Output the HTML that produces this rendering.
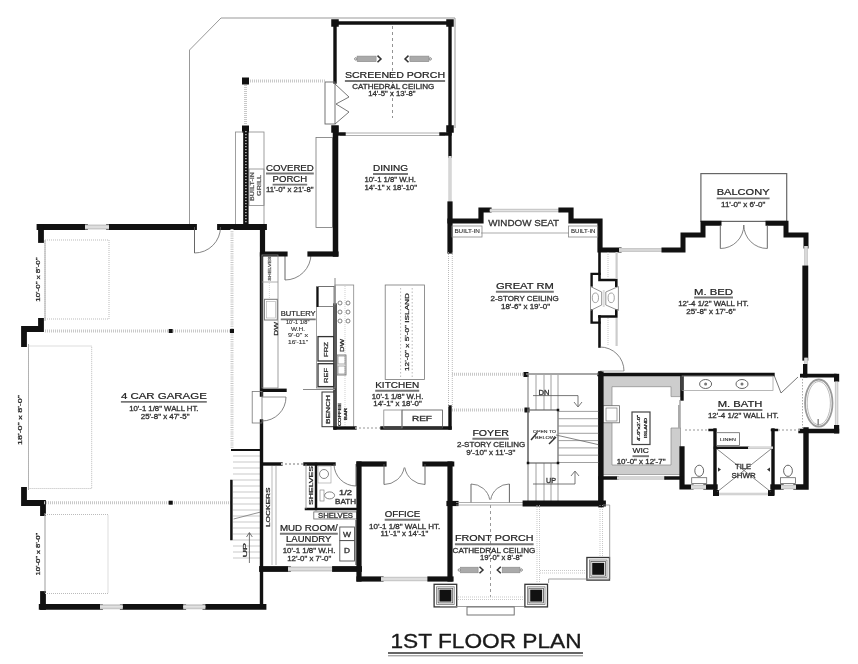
<!DOCTYPE html>
<html><head><meta charset="utf-8"><style>
html,body{margin:0;padding:0;background:#fff;}
svg{display:block;font-family:"Liberation Sans", sans-serif;}
</style></head><body>
<svg width="858" height="664" viewBox="0 0 858 664">
<defs><filter id="bl" filterUnits="userSpaceOnUse" x="0" y="0" width="858" height="664" color-interpolation-filters="sRGB"><feColorMatrix type="saturate" values="0"/><feGaussianBlur stdDeviation="0.5"/></filter></defs>
<rect width="858" height="664" fill="#fff"/>
<g filter="url(#bl)">
<rect width="858" height="664" fill="#fff"/>
<polyline points="189.5,224 189.5,50 221,18 455,18 455,128" fill="none" stroke="#999" stroke-width="1" stroke-linecap="butt" stroke-linejoin="miter"/>
<polyline points="335,23 450,23" fill="none" stroke="#111" stroke-width="3.4" stroke-linecap="square" stroke-linejoin="miter"/>
<polyline points="335,23 335,82" fill="none" stroke="#111" stroke-width="3.4" stroke-linecap="square" stroke-linejoin="miter"/>
<polyline points="450,23 450,156" fill="none" stroke="#111" stroke-width="3.4" stroke-linecap="square" stroke-linejoin="miter"/>
<rect x="331.25" y="19.25" width="7.5" height="7.5" fill="#111"/>
<rect x="446.25" y="19.25" width="7.5" height="7.5" fill="#111"/>
<rect x="331.25" y="125.25" width="7.5" height="7.5" fill="#111"/>
<rect x="446.25" y="125.25" width="7.5" height="7.5" fill="#111"/>
<line x1="340" y1="133" x2="445" y2="133" stroke="#999" stroke-width="0.8" stroke-linecap="butt"/>
<line x1="340" y1="135.5" x2="445" y2="135.5" stroke="#999" stroke-width="0.8" stroke-linecap="butt"/>
<polyline points="335,134 344,134" fill="none" stroke="#111" stroke-width="3.4" stroke-linecap="square" stroke-linejoin="miter"/>
<polyline points="441,134 450,134" fill="none" stroke="#111" stroke-width="3.4" stroke-linecap="square" stroke-linejoin="miter"/>
<line x1="392.5" y1="26" x2="392.5" y2="118" stroke="#777" stroke-width="0.8" stroke-linecap="butt" stroke-dasharray="3,3"/>
<circle cx="355.8" cy="58.9" r="1.2" fill="none" stroke="#777" stroke-width="0.9"/>
<rect x="357.1" y="56.1" width="19.00" height="5.6" fill="#aaa" stroke="#888" stroke-width="0.6"/>
<path d="M377.5,55.6 L381,58.9 L377.5,62.199999999999996" fill="none" stroke="#333" stroke-width="1.5"/>
<circle cx="430.2" cy="58.9" r="1.2" fill="none" stroke="#777" stroke-width="0.9"/>
<rect x="409.90" y="56.1" width="19.00" height="5.6" fill="#aaa" stroke="#888" stroke-width="0.6"/>
<path d="M408.5,55.6 L405,58.9 L408.5,62.199999999999996" fill="none" stroke="#333" stroke-width="1.5"/>
<text x="344.9" y="78.0" font-size="8.38" fill="#222" stroke="#222" stroke-width="0.2" textLength="100.20" lengthAdjust="spacingAndGlyphs">SCREENED PORCH</text>
<line x1="344.9" y1="81.0" x2="445.1" y2="81.0" stroke="#777" stroke-width="1.9" stroke-linecap="butt"/>
<text x="352.2" y="89.2" font-size="6.98" fill="#333" stroke="#333" stroke-width="0.3" textLength="82.00" lengthAdjust="spacingAndGlyphs">CATHEDRAL CEILING</text>
<text x="368.2" y="95.9" font-size="6.98" fill="#333" stroke="#333" stroke-width="0.3" textLength="47.40" lengthAdjust="spacingAndGlyphs">14'-5&quot; x 13'-8&quot;</text>
<rect x="325" y="82" width="10" height="42" fill="none" stroke="#666" stroke-width="0.9"/>
<polyline points="335,84 349,97 336,104 349,112 335,124" fill="none" stroke="#555" stroke-width="0.8" stroke-linecap="butt" stroke-linejoin="miter"/>
<rect x="242.0" y="77.5" width="7" height="7" fill="#111"/>
<rect x="242.0" y="125.5" width="7" height="7" fill="#111"/>
<line x1="250" y1="81" x2="325" y2="81" stroke="#c8c8c8" stroke-width="3" stroke-linecap="butt" stroke-dasharray="1,1"/>
<line x1="245.5" y1="85" x2="245.5" y2="125" stroke="#c8c8c8" stroke-width="3" stroke-linecap="butt" stroke-dasharray="1,1"/>
<rect x="235.4" y="132" width="28.599999999999994" height="94" fill="none" stroke="#888" stroke-width="0.8"/>
<rect x="249" y="169" width="15" height="36.5" fill="none" stroke="#888" stroke-width="0.8"/>
<polyline points="245.9,129 245.9,227" fill="none" stroke="#111" stroke-width="5.4" stroke-linecap="square" stroke-linejoin="miter"/>
<line x1="245.9" y1="131" x2="245.9" y2="226" stroke="#ddd" stroke-width="1.3" stroke-linecap="butt" stroke-dasharray="1.2,1.8"/>
<text transform="translate(254.23,201) rotate(-90)" x="0" y="0" font-size="4.8" fill="#555" stroke="#555" stroke-width="0.25" textLength="29.00" lengthAdjust="spacingAndGlyphs">BUILT-IN</text>
<text transform="translate(261.23,196) rotate(-90)" x="0" y="0" font-size="4.8" fill="#555" stroke="#555" stroke-width="0.25" textLength="21.00" lengthAdjust="spacingAndGlyphs">GRILL</text>
<text x="266" y="170.5" font-size="8.38" fill="#222" stroke="#222" stroke-width="0.2" textLength="47.80" lengthAdjust="spacingAndGlyphs">COVERED</text>
<line x1="266" y1="173.5" x2="313.8" y2="173.5" stroke="#777" stroke-width="1.9" stroke-linecap="butt"/>
<text x="272.6" y="181.6" font-size="8.38" fill="#222" stroke="#222" stroke-width="0.2" textLength="34.60" lengthAdjust="spacingAndGlyphs">PORCH</text>
<line x1="272.6" y1="184.6" x2="307.2" y2="184.6" stroke="#777" stroke-width="1.9" stroke-linecap="butt"/>
<text x="266" y="192.4" font-size="6.98" fill="#333" stroke="#333" stroke-width="0.3" textLength="47.50" lengthAdjust="spacingAndGlyphs">11'-0&quot; x 21'-8&quot;</text>
<rect x="316" y="137.5" width="16.5" height="90.0" fill="none" stroke="#777" stroke-width="0.8"/>
<polyline points="335.5,129 335.5,254" fill="none" stroke="#111" stroke-width="5.5" stroke-linecap="square" stroke-linejoin="miter"/>
<line x1="450" y1="156" x2="450" y2="204" stroke="#c9c9c9" stroke-width="3.2" stroke-linecap="butt"/>
<line x1="450" y1="156" x2="450" y2="204" stroke="#e4e4e4" stroke-width="0.96" stroke-linecap="butt"/>
<text x="373" y="171.0" font-size="8.38" fill="#222" stroke="#222" stroke-width="0.2" textLength="35.00" lengthAdjust="spacingAndGlyphs">DINING</text>
<line x1="373" y1="174.0" x2="408" y2="174.0" stroke="#777" stroke-width="1.9" stroke-linecap="butt"/>
<text x="364.5" y="182.1" font-size="6.98" fill="#333" stroke="#333" stroke-width="0.3" textLength="51.40" lengthAdjust="spacingAndGlyphs">10'-1 1/8&quot; W.H.</text>
<text x="364.5" y="189.9" font-size="6.98" fill="#333" stroke="#333" stroke-width="0.3" textLength="52.50" lengthAdjust="spacingAndGlyphs">14'-1&quot; x 18'-10&quot;</text>
<polyline points="39.5,227 85,227" fill="none" stroke="#111" stroke-width="5.8" stroke-linecap="square" stroke-linejoin="miter"/>
<polyline points="109,227 194,227" fill="none" stroke="#111" stroke-width="5.8" stroke-linecap="square" stroke-linejoin="miter"/>
<polyline points="220,227 264,227" fill="none" stroke="#111" stroke-width="5.8" stroke-linecap="square" stroke-linejoin="miter"/>
<line x1="85" y1="227" x2="109" y2="227" stroke="#c9c9c9" stroke-width="5" stroke-linecap="butt"/>
<line x1="85" y1="227" x2="109" y2="227" stroke="#e4e4e4" stroke-width="1.5" stroke-linecap="butt"/>
<polyline points="41,227 41,240" fill="none" stroke="#111" stroke-width="5.8" stroke-linecap="square" stroke-linejoin="miter"/>
<line x1="45" y1="240" x2="45" y2="321" stroke="#aaa" stroke-width="1" stroke-linecap="butt"/>
<polyline points="41,321 41,329 24,329 24,344" fill="none" stroke="#111" stroke-width="5.8" stroke-linecap="square" stroke-linejoin="miter"/>
<line x1="28.5" y1="344" x2="28.5" y2="490" stroke="#aaa" stroke-width="1" stroke-linecap="butt"/>
<polyline points="24,490 24,503 43,503 43,513" fill="none" stroke="#111" stroke-width="5.8" stroke-linecap="square" stroke-linejoin="miter"/>
<line x1="45" y1="513" x2="45" y2="594" stroke="#aaa" stroke-width="1" stroke-linecap="butt"/>
<polyline points="43,594 43,607" fill="none" stroke="#111" stroke-width="5.8" stroke-linecap="square" stroke-linejoin="miter"/>
<polyline points="41.7,606.8 100,606.8" fill="none" stroke="#111" stroke-width="5.8" stroke-linecap="square" stroke-linejoin="miter"/>
<polyline points="122.8,606.8 183.2,606.8" fill="none" stroke="#111" stroke-width="5.8" stroke-linecap="square" stroke-linejoin="miter"/>
<polyline points="205.4,606.8 263.5,606.8" fill="none" stroke="#111" stroke-width="5.8" stroke-linecap="square" stroke-linejoin="miter"/>
<line x1="100" y1="606.8" x2="122.8" y2="606.8" stroke="#c9c9c9" stroke-width="5" stroke-linecap="butt"/>
<line x1="100" y1="606.8" x2="122.8" y2="606.8" stroke="#e4e4e4" stroke-width="1.5" stroke-linecap="butt"/>
<line x1="183.2" y1="606.8" x2="205.4" y2="606.8" stroke="#c9c9c9" stroke-width="5" stroke-linecap="butt"/>
<line x1="183.2" y1="606.8" x2="205.4" y2="606.8" stroke="#e4e4e4" stroke-width="1.5" stroke-linecap="butt"/>
<rect x="45" y="240" width="64" height="79" fill="none" stroke="#bbb" stroke-width="1" stroke-dasharray="1,1"/>
<rect x="28.5" y="346" width="63.2" height="142.5" fill="none" stroke="#bbb" stroke-width="1" stroke-dasharray="1,1"/>
<rect x="45" y="514.5" width="63" height="79.0" fill="none" stroke="#bbb" stroke-width="1" stroke-dasharray="1,1"/>
<line x1="45" y1="331" x2="232" y2="331" stroke="#c8c8c8" stroke-width="3" stroke-linecap="butt" stroke-dasharray="1,1"/>
<line x1="44" y1="502.7" x2="232" y2="502.7" stroke="#c8c8c8" stroke-width="3" stroke-linecap="butt" stroke-dasharray="1,1"/>
<line x1="232" y1="229" x2="232" y2="449" stroke="#c8c8c8" stroke-width="3" stroke-linecap="butt" stroke-dasharray="1,1.2"/>
<rect x="168.7" y="329.0" width="4" height="4" fill="#111"/>
<rect x="230.0" y="329.0" width="4" height="4" fill="#111"/>
<rect x="168.7" y="500.7" width="4" height="4" fill="#111"/>
<polyline points="232,450 262,450" fill="none" stroke="#111" stroke-width="2" stroke-linecap="square" stroke-linejoin="miter"/>
<line x1="233" y1="456" x2="261" y2="456" stroke="#bbb" stroke-width="0.8" stroke-linecap="butt"/>
<line x1="233" y1="462" x2="261" y2="462" stroke="#bbb" stroke-width="0.8" stroke-linecap="butt"/>
<line x1="233" y1="468" x2="261" y2="468" stroke="#bbb" stroke-width="0.8" stroke-linecap="butt"/>
<line x1="233" y1="474" x2="261" y2="474" stroke="#bbb" stroke-width="0.8" stroke-linecap="butt"/>
<line x1="233" y1="480" x2="261" y2="480" stroke="#bbb" stroke-width="0.8" stroke-linecap="butt"/>
<line x1="233" y1="486" x2="261" y2="486" stroke="#bbb" stroke-width="0.8" stroke-linecap="butt"/>
<line x1="233" y1="492" x2="261" y2="492" stroke="#bbb" stroke-width="0.8" stroke-linecap="butt"/>
<line x1="233" y1="498" x2="261" y2="498" stroke="#bbb" stroke-width="0.8" stroke-linecap="butt"/>
<line x1="233" y1="504" x2="261" y2="504" stroke="#bbb" stroke-width="0.8" stroke-linecap="butt"/>
<line x1="233" y1="510" x2="261" y2="510" stroke="#bbb" stroke-width="0.8" stroke-linecap="butt"/>
<line x1="233" y1="516" x2="261" y2="516" stroke="#bbb" stroke-width="0.8" stroke-linecap="butt"/>
<line x1="233" y1="522" x2="261" y2="522" stroke="#bbb" stroke-width="0.8" stroke-linecap="butt"/>
<line x1="233" y1="528" x2="261" y2="528" stroke="#bbb" stroke-width="0.8" stroke-linecap="butt"/>
<line x1="233" y1="534" x2="261" y2="534" stroke="#bbb" stroke-width="0.8" stroke-linecap="butt"/>
<line x1="233" y1="540" x2="261" y2="540" stroke="#bbb" stroke-width="0.8" stroke-linecap="butt"/>
<line x1="233" y1="546" x2="261" y2="546" stroke="#bbb" stroke-width="0.8" stroke-linecap="butt"/>
<line x1="233" y1="552" x2="261" y2="552" stroke="#bbb" stroke-width="0.8" stroke-linecap="butt"/>
<line x1="233" y1="558" x2="261" y2="558" stroke="#bbb" stroke-width="0.8" stroke-linecap="butt"/>
<polyline points="231.4,481 231.4,539" fill="none" stroke="#111" stroke-width="2.5" stroke-linecap="square" stroke-linejoin="miter"/>
<text transform="translate(246.88,557.5) rotate(-90)" x="0" y="0" font-size="5.5" fill="#2a2a2a" stroke="#2a2a2a" stroke-width="0.25" textLength="14.50" lengthAdjust="spacingAndGlyphs">UP</text>
<polyline points="249.4,563 249.4,533" fill="none" stroke="#555" stroke-width="0.8" stroke-linecap="butt" stroke-linejoin="miter"/>
<polyline points="246.5,537 249.4,532.5 252.3,537" fill="none" stroke="#555" stroke-width="0.8" stroke-linecap="butt" stroke-linejoin="miter"/>
<line x1="233.6" y1="519" x2="260.7" y2="512" stroke="#777" stroke-width="0.8" stroke-linecap="butt"/>
<text x="120.9" y="398.9" font-size="8.38" fill="#222" stroke="#222" stroke-width="0.2" textLength="85.90" lengthAdjust="spacingAndGlyphs">4 CAR GARAGE</text>
<line x1="120.9" y1="401.9" x2="206.8" y2="401.9" stroke="#777" stroke-width="1.9" stroke-linecap="butt"/>
<text x="129.2" y="410.5" font-size="6.98" fill="#333" stroke="#333" stroke-width="0.3" textLength="69.30" lengthAdjust="spacingAndGlyphs">10'-1 1/8&quot; WALL HT.</text>
<text x="140.8" y="418.7" font-size="6.98" fill="#333" stroke="#333" stroke-width="0.3" textLength="48.70" lengthAdjust="spacingAndGlyphs">25'-8&quot; x 47'-5&quot;</text>
<text transform="translate(39.87,301.7) rotate(-90)" x="0" y="0" font-size="5.2" fill="#2a2a2a" stroke="#2a2a2a" stroke-width="0.25" textLength="44.30" lengthAdjust="spacingAndGlyphs">10'-0&quot; x 8'-0&quot;</text>
<text transform="translate(22.37,445) rotate(-90)" x="0" y="0" font-size="5.2" fill="#2a2a2a" stroke="#2a2a2a" stroke-width="0.25" textLength="50.00" lengthAdjust="spacingAndGlyphs">18'-0&quot; x 8'-0&quot;</text>
<text transform="translate(39.87,575.5) rotate(-90)" x="0" y="0" font-size="5.2" fill="#2a2a2a" stroke="#2a2a2a" stroke-width="0.25" textLength="42.70" lengthAdjust="spacingAndGlyphs">10'-0&quot; x 8'-0&quot;</text>
<line x1="194.5" y1="227" x2="194.5" y2="253.0" stroke="#555" stroke-width="0.9" stroke-linecap="butt"/>
<path d="M194.50,253.00 A26,26 0 0 0 220.50,227.00" fill="none" stroke="#666" stroke-width="0.8"/>
<line x1="285" y1="254" x2="285.0" y2="280.0" stroke="#555" stroke-width="0.9" stroke-linecap="butt"/>
<path d="M285.00,280.00 A26,26 0 0 0 311.00,254.00" fill="none" stroke="#666" stroke-width="0.8"/>
<polyline points="262.5,227 262.5,254 285,254" fill="none" stroke="#111" stroke-width="5.2" stroke-linecap="square" stroke-linejoin="miter"/>
<polyline points="310,254 336,254" fill="none" stroke="#111" stroke-width="5.2" stroke-linecap="square" stroke-linejoin="miter"/>
<polyline points="261.5,254 261.5,395" fill="none" stroke="#111" stroke-width="3.4" stroke-linecap="square" stroke-linejoin="miter"/>
<polyline points="261.5,421 261.5,607" fill="none" stroke="#111" stroke-width="3.4" stroke-linecap="square" stroke-linejoin="miter"/>
<polyline points="262,390.3 285,390.3" fill="none" stroke="#111" stroke-width="3.4" stroke-linecap="square" stroke-linejoin="miter"/>
<rect x="252.2" y="391.5" width="9.800000000000011" height="31.5" fill="none" stroke="#777" stroke-width="0.8"/>
<line x1="262" y1="397" x2="286" y2="397" stroke="#777" stroke-width="0.8" stroke-linecap="butt"/>
<path d="M286.00,397.00 A24,24 0 0 1 262.00,421.00" fill="none" stroke="#666" stroke-width="0.8"/>
<rect x="262" y="255" width="16" height="133" fill="none" stroke="#888" stroke-width="0.8"/>
<line x1="262" y1="282" x2="278" y2="282" stroke="#999" stroke-width="0.8" stroke-linecap="butt"/>
<line x1="269.4" y1="283" x2="269.4" y2="298" stroke="#ccc" stroke-width="0.8" stroke-linecap="butt" stroke-dasharray="1,1"/>
<text transform="translate(271.31,280.7) rotate(-90)" x="0" y="0" font-size="4.2" fill="#555" stroke="#555" stroke-width="0.25" textLength="24.30" lengthAdjust="spacingAndGlyphs">SHELVES</text>
<rect x="264.4" y="299.3" width="12.900000000000034" height="20.69999999999999" fill="none" stroke="#777" stroke-width="1"/>
<rect x="266.5" y="301.5" width="9.0" height="16.5" fill="none" stroke="#aaa" stroke-width="0.6"/>
<text transform="translate(277.66,335.7) rotate(-90)" x="0" y="0" font-size="6" fill="#2a2a2a" stroke="#2a2a2a" stroke-width="0.25" textLength="13.70" lengthAdjust="spacingAndGlyphs">DW</text>
<text x="280.75" y="316.4" font-size="7.54" fill="#222" stroke="#222" stroke-width="0.2" textLength="34.95" lengthAdjust="spacingAndGlyphs">BUTLERY</text>
<line x1="280.75" y1="319.4" x2="315.7" y2="319.4" stroke="#777" stroke-width="1.9" stroke-linecap="butt"/>
<text x="286" y="323.9" font-size="5.31" fill="#333" stroke="#333" stroke-width="0.12" textLength="23.40" lengthAdjust="spacingAndGlyphs">10'-1 1/8&quot;</text>
<text x="291" y="330.7" font-size="5.31" fill="#333" stroke="#333" stroke-width="0.12" textLength="14.00" lengthAdjust="spacingAndGlyphs">W.H.</text>
<text x="288" y="337.29999999999995" font-size="5.31" fill="#333" stroke="#333" stroke-width="0.12" textLength="20.00" lengthAdjust="spacingAndGlyphs">9'-0&quot; x</text>
<text x="288" y="344.2" font-size="5.31" fill="#333" stroke="#333" stroke-width="0.12" textLength="20.00" lengthAdjust="spacingAndGlyphs">16'-11&quot;</text>
<polyline points="335,305 335,428" fill="none" stroke="#111" stroke-width="3.4" stroke-linecap="square" stroke-linejoin="miter"/>
<rect x="316.5" y="286.5" width="18.5" height="101.5" fill="none" stroke="#888" stroke-width="0.8"/>
<rect x="318" y="286.5" width="16" height="20.0" fill="none" stroke="#666" stroke-width="0.8"/>
<polyline points="317.5,288 317.5,306" fill="none" stroke="#111" stroke-width="2" stroke-linecap="square" stroke-linejoin="miter"/>
<rect x="318" y="336.6" width="16" height="24.399999999999977" fill="none" stroke="#333" stroke-width="1.3"/>
<rect x="318" y="363.7" width="16" height="22.900000000000034" fill="none" stroke="#333" stroke-width="1.3"/>
<text transform="translate(328.09,357) rotate(-90)" x="0" y="0" font-size="5.8" fill="#2a2a2a" stroke="#2a2a2a" stroke-width="0.25" textLength="15.00" lengthAdjust="spacingAndGlyphs">FRZ</text>
<text transform="translate(328.09,383) rotate(-90)" x="0" y="0" font-size="5.8" fill="#2a2a2a" stroke="#2a2a2a" stroke-width="0.25" textLength="15.00" lengthAdjust="spacingAndGlyphs">REF</text>
<rect x="322" y="392" width="13" height="34.69999999999999" fill="none" stroke="#333" stroke-width="1"/>
<text transform="translate(330.30,424) rotate(-90)" x="0" y="0" font-size="5" fill="#2a2a2a" stroke="#2a2a2a" stroke-width="0.25" textLength="29.00" lengthAdjust="spacingAndGlyphs">BENCH</text>
<rect x="335" y="285" width="18.69999999999999" height="143" fill="none" stroke="#888" stroke-width="0.8"/>
<line x1="345" y1="286" x2="345" y2="427" stroke="#bbb" stroke-width="0.7" stroke-linecap="butt" stroke-dasharray="1,1"/>
<circle cx="340" cy="303" r="2" fill="none" stroke="#666" stroke-width="0.8"/>
<circle cx="348" cy="303" r="2" fill="none" stroke="#666" stroke-width="0.8"/>
<circle cx="340" cy="312" r="2" fill="none" stroke="#666" stroke-width="0.8"/>
<circle cx="348" cy="312" r="2" fill="none" stroke="#666" stroke-width="0.8"/>
<circle cx="340" cy="321" r="2" fill="none" stroke="#666" stroke-width="0.8"/>
<circle cx="348" cy="321" r="2" fill="none" stroke="#666" stroke-width="0.8"/>
<text transform="translate(343.98,352) rotate(-90)" x="0" y="0" font-size="5.5" fill="#2a2a2a" stroke="#2a2a2a" stroke-width="0.25" textLength="13.00" lengthAdjust="spacingAndGlyphs">DW</text>
<rect x="337" y="355" width="9" height="20" fill="none" stroke="#666" stroke-width="0.8"/>
<rect x="338" y="356" width="7" height="8" fill="none" stroke="#888" stroke-width="0.7"/>
<rect x="338" y="366" width="7" height="8" fill="none" stroke="#888" stroke-width="0.7"/>
<text transform="translate(341.19,426) rotate(-90)" x="0" y="0" font-size="3.3" fill="#2a2a2a" stroke="#2a2a2a" stroke-width="0.25" textLength="23.00" lengthAdjust="spacingAndGlyphs">COFFEE</text>
<text transform="translate(347.19,420) rotate(-90)" x="0" y="0" font-size="3.3" fill="#2a2a2a" stroke="#2a2a2a" stroke-width="0.25" textLength="12.00" lengthAdjust="spacingAndGlyphs">BAR</text>
<line x1="335" y1="278" x2="335" y2="305" stroke="#888" stroke-width="1" stroke-linecap="butt"/>
<polyline points="335,428 355,428" fill="none" stroke="#111" stroke-width="3.4" stroke-linecap="square" stroke-linejoin="miter"/>
<line x1="355" y1="428" x2="382" y2="428" stroke="#bbb" stroke-width="1.5" stroke-linecap="butt" stroke-dasharray="2,2"/>
<polyline points="382,428 450,428" fill="none" stroke="#111" stroke-width="3.4" stroke-linecap="square" stroke-linejoin="miter"/>
<polyline points="450,407 450,428" fill="none" stroke="#111" stroke-width="3.4" stroke-linecap="square" stroke-linejoin="miter"/>
<rect x="385.2" y="285" width="39.19999999999999" height="94.5" fill="none" stroke="#777" stroke-width="0.8"/>
<line x1="400.6" y1="288" x2="400.6" y2="377" stroke="#aaa" stroke-width="0.8" stroke-linecap="butt" stroke-dasharray="1.5,2"/>
<line x1="412.2" y1="288" x2="412.2" y2="377" stroke="#aaa" stroke-width="0.8" stroke-linecap="butt" stroke-dasharray="1.5,2"/>
<text transform="translate(409.16,371) rotate(-90)" x="0" y="0" font-size="6" fill="#2a2a2a" stroke="#2a2a2a" stroke-width="0.25" textLength="78.00" lengthAdjust="spacingAndGlyphs">12'-0&quot; x 5'-0&quot; ISLAND</text>
<rect x="402" y="410" width="40.39999999999998" height="18" fill="none" stroke="#555" stroke-width="0.8"/>
<text x="412" y="421.25" font-size="6.28" fill="#333" stroke="#333" stroke-width="0.3" textLength="20.00" lengthAdjust="spacingAndGlyphs">REF</text>
<rect x="383.8" y="410" width="18.19999999999999" height="18" fill="none" stroke="#888" stroke-width="0.8"/>
<text x="375.2" y="387.7" font-size="8.38" fill="#222" stroke="#222" stroke-width="0.2" textLength="44.00" lengthAdjust="spacingAndGlyphs">KITCHEN</text>
<line x1="375.2" y1="390.7" x2="419.2" y2="390.7" stroke="#777" stroke-width="1.9" stroke-linecap="butt"/>
<text x="371.8" y="398.5" font-size="6.98" fill="#333" stroke="#333" stroke-width="0.3" textLength="51.50" lengthAdjust="spacingAndGlyphs">10'-1 1/8&quot; W.H.</text>
<text x="373.3" y="405.7" font-size="6.98" fill="#333" stroke="#333" stroke-width="0.3" textLength="48.50" lengthAdjust="spacingAndGlyphs">14'-1&quot; x 18'-0&quot;</text>
<line x1="303" y1="389.5" x2="335" y2="389.5" stroke="#888" stroke-width="1" stroke-linecap="butt"/>
<polyline points="450,204 450,251" fill="none" stroke="#111" stroke-width="5.2" stroke-linecap="square" stroke-linejoin="miter"/>
<line x1="448.5" y1="252" x2="448.5" y2="407" stroke="#aaa" stroke-width="0.8" stroke-linecap="butt" stroke-dasharray="1,1"/>
<line x1="452.3" y1="252" x2="452.3" y2="407" stroke="#aaa" stroke-width="0.8" stroke-linecap="butt" stroke-dasharray="1,1"/>
<rect x="700.9" y="173.6" width="85.80000000000007" height="47.80000000000001" fill="none" stroke="#666" stroke-width="1.2"/>
<polyline points="450,221 481,221 481,210 489,210" fill="none" stroke="#111" stroke-width="5.2" stroke-linecap="square" stroke-linejoin="miter"/>
<line x1="489.8" y1="210.5" x2="560.7" y2="210.5" stroke="#c9c9c9" stroke-width="3.3" stroke-linecap="butt"/>
<line x1="489.8" y1="210.5" x2="560.7" y2="210.5" stroke="#e4e4e4" stroke-width="0.9899999999999999" stroke-linecap="butt"/>
<polyline points="561,210 571,210 571,221 600,221 600,250 619,250" fill="none" stroke="#111" stroke-width="5.2" stroke-linecap="square" stroke-linejoin="miter"/>
<rect x="452" y="226" width="30" height="11" fill="none" stroke="#888" stroke-width="0.8"/>
<text x="454.4" y="232.8" font-size="5.59" fill="#333" stroke="#333" stroke-width="0.12" textLength="25.50" lengthAdjust="spacingAndGlyphs">BUILT-IN</text>
<rect x="568.4" y="226" width="29.300000000000068" height="11" fill="none" stroke="#888" stroke-width="0.8"/>
<text x="571" y="232.8" font-size="5.59" fill="#333" stroke="#333" stroke-width="0.12" textLength="24.50" lengthAdjust="spacingAndGlyphs">BUILT-IN</text>
<line x1="481" y1="233" x2="569" y2="233" stroke="#888" stroke-width="0.7" stroke-linecap="butt"/>
<text x="488.3" y="226" font-size="9.8" fill="#333" stroke="#333" stroke-width="0.3" textLength="70.8" lengthAdjust="spacingAndGlyphs">WINDOW SEAT</text>
<text x="495.9" y="288.8" font-size="8.38" fill="#222" stroke="#222" stroke-width="0.2" textLength="57.90" lengthAdjust="spacingAndGlyphs">GREAT RM</text>
<line x1="495.9" y1="291.8" x2="553.8" y2="291.8" stroke="#777" stroke-width="1.9" stroke-linecap="butt"/>
<text x="490.5" y="301.2" font-size="6.98" fill="#333" stroke="#333" stroke-width="0.3" textLength="68.30" lengthAdjust="spacingAndGlyphs">2-STORY CEILING</text>
<text x="501" y="309.4" font-size="6.98" fill="#333" stroke="#333" stroke-width="0.3" textLength="49.00" lengthAdjust="spacingAndGlyphs">18'-6&quot; x 19'-0&quot;</text>
<line x1="619" y1="250" x2="664" y2="250" stroke="#c9c9c9" stroke-width="3.8" stroke-linecap="butt"/>
<line x1="619" y1="250" x2="664" y2="250" stroke="#e4e4e4" stroke-width="1.14" stroke-linecap="butt"/>
<polyline points="664,250 683,250 683,235 703,235 703,223.2 719,223.2" fill="none" stroke="#111" stroke-width="5.0" stroke-linecap="square" stroke-linejoin="miter"/>
<polyline points="768,223.2 786,223.2 786,235 806,235 806,246" fill="none" stroke="#111" stroke-width="5.0" stroke-linecap="square" stroke-linejoin="miter"/>
<line x1="806" y1="246" x2="806" y2="268.5" stroke="#c9c9c9" stroke-width="3.8" stroke-linecap="butt"/>
<line x1="806" y1="246" x2="806" y2="268.5" stroke="#e4e4e4" stroke-width="1.14" stroke-linecap="butt"/>
<polyline points="805.3,268.5 805.3,357.7" fill="none" stroke="#111" stroke-width="5.9" stroke-linecap="square" stroke-linejoin="miter"/>
<line x1="806" y1="357.7" x2="806" y2="364" stroke="#c9c9c9" stroke-width="3.8" stroke-linecap="butt"/>
<line x1="806" y1="357.7" x2="806" y2="364" stroke="#e4e4e4" stroke-width="1.14" stroke-linecap="butt"/>
<polyline points="805.2,364 805.2,377.5" fill="none" stroke="#111" stroke-width="4.4" stroke-linecap="butt" stroke-linejoin="miter"/>
<polyline points="599.5,250 599.5,280 616.3,280 616.3,285.6" fill="none" stroke="#111" stroke-width="2.6" stroke-linecap="square" stroke-linejoin="miter"/>
<polyline points="599.5,273.9 591.6,273.9 591.6,285.6" fill="none" stroke="#111" stroke-width="2.4" stroke-linecap="square" stroke-linejoin="miter"/>
<polyline points="591.6,310.4 591.6,322.6 599.5,322.6" fill="none" stroke="#111" stroke-width="2.4" stroke-linecap="square" stroke-linejoin="miter"/>
<polyline points="599.5,316.5 616.3,316.5 616.3,310.4" fill="none" stroke="#111" stroke-width="2.6" stroke-linecap="square" stroke-linejoin="miter"/>
<polyline points="599.5,316.5 599.5,346.5" fill="none" stroke="#111" stroke-width="2.6" stroke-linecap="square" stroke-linejoin="miter"/>
<line x1="608" y1="252" x2="608" y2="279" stroke="#bbb" stroke-width="0.8" stroke-linecap="butt" stroke-dasharray="1,1"/>
<line x1="616.6" y1="252" x2="616.6" y2="279" stroke="#ccc" stroke-width="2.2" stroke-linecap="butt"/>
<line x1="608" y1="318" x2="608" y2="346" stroke="#bbb" stroke-width="0.8" stroke-linecap="butt" stroke-dasharray="1,1"/>
<line x1="616.6" y1="318" x2="616.6" y2="346" stroke="#ccc" stroke-width="2.2" stroke-linecap="butt"/>
<path d="M590.5,286.5 L601.7,292 V305 L590.5,310.5 Z" fill="none" stroke="#888" stroke-width="0.9"/>
<path d="M618.4,286.5 L605.8,292 V305 L618.4,310.5 Z" fill="none" stroke="#888" stroke-width="0.9"/>
<line x1="603.7" y1="290" x2="603.7" y2="307" stroke="#ddd" stroke-width="2" stroke-linecap="butt"/>
<ellipse cx="595.4" cy="297.8" rx="3.1" ry="4.8" fill="none" stroke="#999" stroke-width="0.9"/>
<ellipse cx="611.2" cy="297.8" rx="3.1" ry="4.8" fill="none" stroke="#999" stroke-width="0.9"/>
<line x1="600" y1="371" x2="624" y2="371" stroke="#aaa" stroke-width="1" stroke-linecap="butt"/>
<path d="M600.00,347.00 A24,24 0 0 1 624.00,371.00" fill="none" stroke="#666" stroke-width="0.8"/>
<text x="716.7" y="195.4" font-size="8.38" fill="#222" stroke="#222" stroke-width="0.2" textLength="52.90" lengthAdjust="spacingAndGlyphs">BALCONY</text>
<line x1="716.7" y1="198.4" x2="769.6" y2="198.4" stroke="#777" stroke-width="1.9" stroke-linecap="butt"/>
<text x="721" y="207.2" font-size="6.98" fill="#333" stroke="#333" stroke-width="0.3" textLength="44.40" lengthAdjust="spacingAndGlyphs">11'-0&quot; x 6'-0&quot;</text>
<line x1="720.3" y1="225" x2="720.3" y2="248.5" stroke="#555" stroke-width="0.9" stroke-linecap="butt"/>
<path d="M720.30,248.50 A23.5,23.5 0 0 0 743.80,225.00" fill="none" stroke="#666" stroke-width="0.8"/>
<line x1="767.3" y1="225" x2="767.3" y2="248.5" stroke="#555" stroke-width="0.9" stroke-linecap="butt"/>
<path d="M767.30,248.50 A23.5,23.5 0 0 1 743.80,225.00" fill="none" stroke="#666" stroke-width="0.8"/>
<text x="694.1" y="294.5" font-size="8.38" fill="#222" stroke="#222" stroke-width="0.2" textLength="38.90" lengthAdjust="spacingAndGlyphs">M. BED</text>
<line x1="694.1" y1="297.5" x2="733" y2="297.5" stroke="#777" stroke-width="1.9" stroke-linecap="butt"/>
<text x="678.2" y="306.1" font-size="6.98" fill="#333" stroke="#333" stroke-width="0.3" textLength="70.50" lengthAdjust="spacingAndGlyphs">12'-4 1/2&quot; WALL HT.</text>
<text x="686.3" y="314.0" font-size="6.98" fill="#333" stroke="#333" stroke-width="0.3" textLength="49.30" lengthAdjust="spacingAndGlyphs">25'-8&quot; x 17'-6&quot;</text>
<polyline points="599,374.5 773,374.5" fill="none" stroke="#111" stroke-width="3.4" stroke-linecap="square" stroke-linejoin="miter"/>
<polyline points="774,375 781,393 798,377" fill="none" stroke="#555" stroke-width="0.8" stroke-linecap="butt" stroke-linejoin="miter"/>
<polyline points="800,375.7 836.6,375.7" fill="none" stroke="#111" stroke-width="3.8" stroke-linecap="butt" stroke-linejoin="miter"/>
<polyline points="836.6,373.8 836.6,381.7" fill="none" stroke="#111" stroke-width="5.2" stroke-linecap="butt" stroke-linejoin="miter"/>
<line x1="836.6" y1="381.7" x2="836.6" y2="425" stroke="#c9c9c9" stroke-width="3.5" stroke-linecap="butt"/>
<line x1="836.6" y1="381.7" x2="836.6" y2="425" stroke="#e4e4e4" stroke-width="1.05" stroke-linecap="butt"/>
<polyline points="836.6,425 836.6,433.5" fill="none" stroke="#111" stroke-width="5.2" stroke-linecap="butt" stroke-linejoin="miter"/>
<polyline points="798.3,431 839.2,431" fill="none" stroke="#111" stroke-width="4.6" stroke-linecap="butt" stroke-linejoin="miter"/>
<polyline points="806,430 806,487 796,487" fill="none" stroke="#111" stroke-width="5.4" stroke-linecap="square" stroke-linejoin="miter"/>
<polyline points="773,487 781,487" fill="none" stroke="#111" stroke-width="5.4" stroke-linecap="square" stroke-linejoin="miter"/>
<line x1="781" y1="487" x2="796" y2="487" stroke="#c9c9c9" stroke-width="4.5" stroke-linecap="butt"/>
<line x1="781" y1="487" x2="796" y2="487" stroke="#e4e4e4" stroke-width="1.3499999999999999" stroke-linecap="butt"/>
<ellipse cx="818.8" cy="403.1" rx="13.7" ry="23.6" fill="none" stroke="#999" stroke-width="1.8"/>
<ellipse cx="818.8" cy="403.1" rx="11.6" ry="21.6" fill="none" stroke="#aaa" stroke-width="0.8"/>
<line x1="818.2" y1="419" x2="818.2" y2="425.5" stroke="#888" stroke-width="1.5" stroke-linecap="butt"/>
<line x1="802.5" y1="379" x2="802.5" y2="428" stroke="#aaa" stroke-width="1" stroke-linecap="butt" stroke-dasharray="1.5,1.5"/>
<polyline points="600,373 600,503.6" fill="none" stroke="#111" stroke-width="3.5" stroke-linecap="square" stroke-linejoin="miter"/>
<path d="M602,376.5 H680.5 V396.6 H671 V386.7 H612 V465 H671 V428 H680.5 V474.5 H602 Z" fill="#cdcdcd" stroke="#888" stroke-width="0.7"/>
<rect x="603" y="405.7" width="16.399999999999977" height="17.100000000000023" fill="#fff" stroke="#666" stroke-width="0.8"/>
<rect x="606" y="408" width="11" height="13" fill="none" stroke="#777" stroke-width="0.7"/>
<polyline points="682,375 682,399" fill="none" stroke="#111" stroke-width="3.4" stroke-linecap="square" stroke-linejoin="miter"/>
<polyline points="682,448.8 682,487 691,487" fill="none" stroke="#111" stroke-width="5.2" stroke-linecap="square" stroke-linejoin="miter"/>
<polyline points="706,487 715,487" fill="none" stroke="#111" stroke-width="5.4" stroke-linecap="square" stroke-linejoin="miter"/>
<line x1="691" y1="487" x2="706" y2="487" stroke="#c9c9c9" stroke-width="4.5" stroke-linecap="butt"/>
<line x1="691" y1="487" x2="706" y2="487" stroke="#e4e4e4" stroke-width="1.3499999999999999" stroke-linecap="butt"/>
<polyline points="600,478 617,478" fill="none" stroke="#111" stroke-width="3.5" stroke-linecap="square" stroke-linejoin="miter"/>
<line x1="617" y1="478" x2="666" y2="478" stroke="#c9c9c9" stroke-width="3.5" stroke-linecap="butt"/>
<line x1="617" y1="478" x2="666" y2="478" stroke="#e4e4e4" stroke-width="1.05" stroke-linecap="butt"/>
<polyline points="666,478 682,478" fill="none" stroke="#111" stroke-width="3.5" stroke-linecap="square" stroke-linejoin="miter"/>
<rect x="632" y="412" width="18" height="32.5" fill="none" stroke="#444" stroke-width="1.2"/>
<text transform="translate(640.26,441) rotate(-90)" x="0" y="0" font-size="3.5" fill="#2a2a2a" stroke="#2a2a2a" stroke-width="0.25" textLength="26.00" lengthAdjust="spacingAndGlyphs">4'-0&quot;x2'-0&quot;</text>
<text transform="translate(647.26,438) rotate(-90)" x="0" y="0" font-size="3.5" fill="#2a2a2a" stroke="#2a2a2a" stroke-width="0.25" textLength="20.00" lengthAdjust="spacingAndGlyphs">ISLAND</text>
<text x="632.5" y="453.2" font-size="8.10" fill="#222" stroke="#222" stroke-width="0.2" textLength="16.50" lengthAdjust="spacingAndGlyphs">WIC</text>
<line x1="632.5" y1="456.2" x2="649" y2="456.2" stroke="#777" stroke-width="1.9" stroke-linecap="butt"/>
<text x="616.7" y="463.7" font-size="6.98" fill="#333" stroke="#333" stroke-width="0.3" textLength="48.80" lengthAdjust="spacingAndGlyphs">10'-0&quot; x 12'-7&quot;</text>
<text x="717.8" y="407.0" font-size="8.38" fill="#222" stroke="#222" stroke-width="0.2" textLength="44.60" lengthAdjust="spacingAndGlyphs">M. BATH</text>
<line x1="717.8" y1="410.0" x2="762.4" y2="410.0" stroke="#777" stroke-width="1.9" stroke-linecap="butt"/>
<text x="707.9" y="418.1" font-size="6.98" fill="#333" stroke="#333" stroke-width="0.3" textLength="70.80" lengthAdjust="spacingAndGlyphs">12'-4 1/2&quot; WALL HT.</text>
<rect x="682" y="376" width="91" height="14.600000000000023" fill="none" stroke="#999" stroke-width="0.7"/>
<ellipse cx="705.6" cy="384" rx="6" ry="4.5" fill="none" stroke="#555" stroke-width="0.9"/>
<circle cx="705.6" cy="384" r="1.5" fill="#777"/>
<ellipse cx="742" cy="384" rx="6" ry="4.5" fill="none" stroke="#555" stroke-width="0.9"/>
<circle cx="742" cy="384" r="1.5" fill="#777"/>
<polyline points="715,430 715,494" fill="none" stroke="#111" stroke-width="3.4" stroke-linecap="square" stroke-linejoin="miter"/>
<polyline points="773,430 773,494" fill="none" stroke="#111" stroke-width="3.4" stroke-linecap="square" stroke-linejoin="miter"/>
<polyline points="715,447.7 748,447.7" fill="none" stroke="#111" stroke-width="2.5" stroke-linecap="square" stroke-linejoin="miter"/>
<line x1="748" y1="447.7" x2="773" y2="447.7" stroke="#c9c9c9" stroke-width="2.5" stroke-linecap="butt"/>
<line x1="748" y1="447.7" x2="773" y2="447.7" stroke="#e4e4e4" stroke-width="0.8" stroke-linecap="butt"/>
<line x1="717" y1="494" x2="771" y2="494" stroke="#c9c9c9" stroke-width="2.5" stroke-linecap="butt"/>
<line x1="717" y1="494" x2="771" y2="494" stroke="#e4e4e4" stroke-width="0.8" stroke-linecap="butt"/>
<rect x="713.0" y="490.0" width="6" height="6" fill="#111"/>
<rect x="768.0" y="490.0" width="6" height="6" fill="#111"/>
<polyline points="709.6,430 715,430" fill="none" stroke="#111" stroke-width="2.5" stroke-linecap="square" stroke-linejoin="miter"/>
<polyline points="772,430 777,430" fill="none" stroke="#111" stroke-width="2.5" stroke-linecap="square" stroke-linejoin="miter"/>
<line x1="685" y1="430" x2="709" y2="430" stroke="#bbb" stroke-width="1.5" stroke-linecap="butt" stroke-dasharray="2,2"/>
<line x1="778" y1="430" x2="800" y2="430" stroke="#bbb" stroke-width="1.5" stroke-linecap="butt" stroke-dasharray="2,2"/>
<rect x="716.5" y="432.7" width="23.100000000000023" height="12.699999999999989" fill="none" stroke="#666" stroke-width="0.8"/>
<text x="720" y="440.5" font-size="4.19" fill="#333" stroke="#333" stroke-width="0.12" textLength="16.00" lengthAdjust="spacingAndGlyphs">LINEN</text>
<polyline points="717,449 771,492" fill="none" stroke="#555" stroke-width="0.7" stroke-linecap="butt" stroke-linejoin="miter"/>
<polyline points="771,449 717,492" fill="none" stroke="#555" stroke-width="0.7" stroke-linecap="butt" stroke-linejoin="miter"/>
<path d="M718,467.5 L721,469.6 L718,471.7Z" fill="#333"/><path d="M770,467.5 L767,469.6 L770,471.7Z" fill="#333"/>
<text x="735" y="468.5" font-size="6.98" fill="#333" stroke="#333" stroke-width="0.3" textLength="16.00" lengthAdjust="spacingAndGlyphs">TILE</text>
<text x="731.5" y="478.0" font-size="6.98" fill="#333" stroke="#333" stroke-width="0.3" textLength="24.30" lengthAdjust="spacingAndGlyphs">SHWR</text>
<ellipse cx="699.2" cy="470.8" rx="4.4" ry="5.6" fill="none" stroke="#555" stroke-width="0.9"/>
<rect x="691.7" y="477.7" width="15.0" height="5.800000000000011" fill="none" stroke="#666" stroke-width="0.8"/>
<ellipse cx="788" cy="470.8" rx="4.4" ry="5.6" fill="none" stroke="#555" stroke-width="0.9"/>
<rect x="780.5" y="477.7" width="15.0" height="5.800000000000011" fill="none" stroke="#666" stroke-width="0.8"/>
<line x1="680" y1="400" x2="680" y2="428" stroke="#777" stroke-width="1" stroke-linecap="butt"/>
<line x1="679" y1="405" x2="679" y2="428" stroke="#aaa" stroke-width="2" stroke-linecap="butt"/>
<line x1="452" y1="374.3" x2="526" y2="374.3" stroke="#c8c8c8" stroke-width="3" stroke-linecap="butt" stroke-dasharray="1,1"/>
<rect x="523.5" y="372.0" width="5" height="5" fill="#111"/>
<line x1="526" y1="374" x2="600" y2="374" stroke="#888" stroke-width="1.5" stroke-linecap="butt"/>
<line x1="452" y1="410" x2="526" y2="410" stroke="#c8c8c8" stroke-width="3" stroke-linecap="butt" stroke-dasharray="1,1"/>
<rect x="524.5" y="407.5" width="5" height="5" fill="#111"/>
<line x1="528" y1="374" x2="528" y2="503" stroke="#777" stroke-width="1" stroke-linecap="butt"/>
<line x1="536" y1="375" x2="536" y2="410" stroke="#888" stroke-width="0.8" stroke-linecap="butt"/>
<line x1="536" y1="463" x2="536" y2="503" stroke="#888" stroke-width="0.8" stroke-linecap="butt"/>
<line x1="544" y1="375" x2="544" y2="410" stroke="#888" stroke-width="0.8" stroke-linecap="butt"/>
<line x1="544" y1="463" x2="544" y2="503" stroke="#888" stroke-width="0.8" stroke-linecap="butt"/>
<line x1="551" y1="375" x2="551" y2="410" stroke="#888" stroke-width="0.8" stroke-linecap="butt"/>
<line x1="551" y1="463" x2="551" y2="503" stroke="#888" stroke-width="0.8" stroke-linecap="butt"/>
<line x1="558" y1="375" x2="558" y2="410" stroke="#888" stroke-width="0.8" stroke-linecap="butt"/>
<line x1="558" y1="463" x2="558" y2="503" stroke="#888" stroke-width="0.8" stroke-linecap="butt"/>
<rect x="528" y="410" width="30" height="53" fill="none" stroke="#666" stroke-width="1.2"/>
<line x1="558" y1="411.4" x2="600" y2="411.4" stroke="#888" stroke-width="0.8" stroke-linecap="butt"/>
<line x1="558" y1="418.7" x2="600" y2="418.7" stroke="#888" stroke-width="0.8" stroke-linecap="butt"/>
<line x1="558" y1="426.0" x2="600" y2="426.0" stroke="#888" stroke-width="0.8" stroke-linecap="butt"/>
<line x1="558" y1="433.29999999999995" x2="600" y2="433.29999999999995" stroke="#888" stroke-width="0.8" stroke-linecap="butt"/>
<line x1="558" y1="440.59999999999997" x2="600" y2="440.59999999999997" stroke="#888" stroke-width="0.8" stroke-linecap="butt"/>
<line x1="558" y1="447.9" x2="600" y2="447.9" stroke="#888" stroke-width="0.8" stroke-linecap="butt"/>
<line x1="558" y1="455.2" x2="600" y2="455.2" stroke="#888" stroke-width="0.8" stroke-linecap="butt"/>
<line x1="558" y1="462.5" x2="600" y2="462.5" stroke="#888" stroke-width="0.8" stroke-linecap="butt"/>
<rect x="556.75" y="408.75" width="2.5" height="2.5" fill="#111"/>
<rect x="556.75" y="461.75" width="2.5" height="2.5" fill="#111"/>
<rect x="526.75" y="461.75" width="2.5" height="2.5" fill="#111"/>
<polyline points="533,395.6 578,395.6 578,406" fill="none" stroke="#555" stroke-width="0.8" stroke-linecap="butt" stroke-linejoin="miter"/>
<polyline points="574,402 578,407 582,402" fill="none" stroke="#555" stroke-width="0.8" stroke-linecap="butt" stroke-linejoin="miter"/>
<text x="538.6" y="394.8" font-size="6.98" fill="#333" stroke="#333" stroke-width="0.3" textLength="10.90" lengthAdjust="spacingAndGlyphs">DN</text>
<polyline points="533,484 575,484 575,472" fill="none" stroke="#555" stroke-width="0.8" stroke-linecap="butt" stroke-linejoin="miter"/>
<polyline points="571,476 575,471 579,476" fill="none" stroke="#555" stroke-width="0.8" stroke-linecap="butt" stroke-linejoin="miter"/>
<text x="546" y="482.8" font-size="7.26" fill="#333" stroke="#333" stroke-width="0.3" textLength="10.00" lengthAdjust="spacingAndGlyphs">UP</text>
<text x="533" y="433.4" font-size="3.91" fill="#333" stroke="#333" stroke-width="0.12" textLength="23.00" lengthAdjust="spacingAndGlyphs">OPEN TO</text>
<text x="535" y="439.4" font-size="3.91" fill="#333" stroke="#333" stroke-width="0.12" textLength="20.00" lengthAdjust="spacingAndGlyphs">BELOW</text>
<line x1="556" y1="435" x2="600" y2="445" stroke="#666" stroke-width="0.8" stroke-linecap="butt"/>
<line x1="531" y1="440" x2="537" y2="433" stroke="#333" stroke-width="1.5" stroke-linecap="butt"/>
<line x1="549" y1="444" x2="556" y2="437" stroke="#333" stroke-width="1.5" stroke-linecap="butt"/>
<polyline points="601,374 601,505" fill="none" stroke="#111" stroke-width="5.2" stroke-linecap="square" stroke-linejoin="miter"/>
<text x="472.4" y="435.7" font-size="8.38" fill="#222" stroke="#222" stroke-width="0.2" textLength="36.50" lengthAdjust="spacingAndGlyphs">FOYER</text>
<line x1="472.4" y1="438.7" x2="508.9" y2="438.7" stroke="#777" stroke-width="1.9" stroke-linecap="butt"/>
<text x="457" y="447.2" font-size="6.98" fill="#333" stroke="#333" stroke-width="0.3" textLength="68.25" lengthAdjust="spacingAndGlyphs">2-STORY CEILING</text>
<text x="466.3" y="455.1" font-size="6.98" fill="#333" stroke="#333" stroke-width="0.3" textLength="49.00" lengthAdjust="spacingAndGlyphs">9'-10&quot; x 11'-3&quot;</text>
<line x1="471" y1="503" x2="471.0" y2="484.0" stroke="#555" stroke-width="0.9" stroke-linecap="butt"/>
<path d="M471.00,484.00 A19,19 0 0 1 489.71,499.70" fill="none" stroke="#666" stroke-width="0.8"/>
<line x1="509.4" y1="503" x2="509.4" y2="484.0" stroke="#555" stroke-width="0.9" stroke-linecap="butt"/>
<path d="M509.40,484.00 A19,19 0 0 0 490.69,499.70" fill="none" stroke="#666" stroke-width="0.8"/>
<line x1="476" y1="496" x2="504" y2="496" stroke="#aaa" stroke-width="0" stroke-linecap="butt"/>
<polyline points="449,503.5 456,503.5" fill="none" stroke="#111" stroke-width="5.2" stroke-linecap="square" stroke-linejoin="miter"/>
<line x1="456" y1="502.5" x2="525.5" y2="502.5" stroke="#999" stroke-width="0.8" stroke-linecap="butt"/>
<line x1="456" y1="505" x2="525.5" y2="505" stroke="#999" stroke-width="0.8" stroke-linecap="butt"/>
<polyline points="525.5,503.5 603,503.5" fill="none" stroke="#111" stroke-width="5.8" stroke-linecap="square" stroke-linejoin="miter"/>
<polyline points="262,464 281,464" fill="none" stroke="#111" stroke-width="3.4" stroke-linecap="square" stroke-linejoin="miter"/>
<line x1="281" y1="464" x2="305" y2="464" stroke="#bbb" stroke-width="2" stroke-linecap="butt" stroke-dasharray="2,2"/>
<polyline points="305,464 334,464" fill="none" stroke="#111" stroke-width="3.4" stroke-linecap="square" stroke-linejoin="miter"/>
<line x1="272" y1="466" x2="272" y2="565" stroke="#aaa" stroke-width="0.8" stroke-linecap="butt"/>
<line x1="276" y1="466" x2="276" y2="565" stroke="#999" stroke-width="0.8" stroke-linecap="butt"/>
<text transform="translate(270.40,527) rotate(-90)" x="0" y="0" font-size="5" fill="#2a2a2a" stroke="#2a2a2a" stroke-width="0.25" textLength="39.50" lengthAdjust="spacingAndGlyphs">LOCKERS</text>
<polyline points="316,464 316,509" fill="none" stroke="#111" stroke-width="2.5" stroke-linecap="square" stroke-linejoin="miter"/>
<polyline points="306,509 358,509" fill="none" stroke="#111" stroke-width="2.5" stroke-linecap="square" stroke-linejoin="miter"/>
<line x1="306" y1="464" x2="306" y2="509" stroke="#888" stroke-width="0.8" stroke-linecap="butt"/>
<text transform="translate(312.62,505) rotate(-90)" x="0" y="0" font-size="4.5" fill="#2a2a2a" stroke="#2a2a2a" stroke-width="0.25" textLength="39.00" lengthAdjust="spacingAndGlyphs">SHELVES</text>
<circle cx="324" cy="474" r="4.5" fill="none" stroke="#666" stroke-width="0.8"/>
<rect x="318" y="466" width="13" height="17" fill="none" stroke="#999" stroke-width="0.6"/>
<ellipse cx="329.6" cy="495.4" rx="5" ry="3.5" fill="none" stroke="#666" stroke-width="0.8"/>
<rect x="320" y="490" width="4" height="11" fill="none" stroke="#777" stroke-width="0.6"/>
<text x="339" y="495.25" font-size="6.28" fill="#333" stroke="#333" stroke-width="0.3" textLength="13.00" lengthAdjust="spacingAndGlyphs">1/2</text>
<text x="335" y="504.25" font-size="6.28" fill="#333" stroke="#333" stroke-width="0.3" textLength="21.00" lengthAdjust="spacingAndGlyphs">BATH</text>
<line x1="356" y1="464" x2="356.0" y2="486.0" stroke="#555" stroke-width="0.9" stroke-linecap="butt"/>
<path d="M356.00,486.00 A22,22 0 0 1 334.00,464.00" fill="none" stroke="#666" stroke-width="0.8"/>
<rect x="313.8" y="511.9" width="42.89999999999998" height="7.100000000000023" fill="none" stroke="#666" stroke-width="0.8"/>
<text x="318" y="517.75" font-size="6.28" fill="#333" stroke="#333" stroke-width="0.3" textLength="35.00" lengthAdjust="spacingAndGlyphs">SHELVES</text>
<rect x="339.8" y="527" width="14.699999999999989" height="13.600000000000023" fill="none" stroke="#555" stroke-width="0.9"/>
<text x="343" y="536.5" font-size="6.98" fill="#333" stroke="#333" stroke-width="0.3" textLength="8.00" lengthAdjust="spacingAndGlyphs">W</text>
<rect x="339.8" y="540.6" width="14.699999999999989" height="20.399999999999977" fill="none" stroke="#555" stroke-width="0.9"/>
<text x="344" y="553.25" font-size="6.28" fill="#333" stroke="#333" stroke-width="0.3" textLength="6.00" lengthAdjust="spacingAndGlyphs">D</text>
<line x1="356" y1="520" x2="356" y2="565" stroke="#777" stroke-width="1.5" stroke-linecap="butt"/>
<text x="279.9" y="530.7" font-size="8.38" fill="#222" stroke="#222" stroke-width="0.2" textLength="57.90" lengthAdjust="spacingAndGlyphs">MUD ROOM/</text>
<line x1="279.9" y1="533.7" x2="337.8" y2="533.7" stroke="#777" stroke-width="1.9" stroke-linecap="butt"/>
<text x="286" y="541.8" font-size="8.38" fill="#222" stroke="#222" stroke-width="0.2" textLength="45.30" lengthAdjust="spacingAndGlyphs">LAUNDRY</text>
<line x1="286" y1="544.8" x2="331.3" y2="544.8" stroke="#777" stroke-width="1.9" stroke-linecap="butt"/>
<text x="282.7" y="553.4" font-size="6.98" fill="#333" stroke="#333" stroke-width="0.3" textLength="52.70" lengthAdjust="spacingAndGlyphs">10'-1 1/8&quot; W.H.</text>
<text x="287.2" y="560.7" font-size="6.98" fill="#333" stroke="#333" stroke-width="0.3" textLength="44.10" lengthAdjust="spacingAndGlyphs">12'-0&quot; x 7'-0&quot;</text>
<polyline points="262,569 288,569" fill="none" stroke="#111" stroke-width="5.8" stroke-linecap="square" stroke-linejoin="miter"/>
<line x1="288" y1="569" x2="335" y2="569" stroke="#c9c9c9" stroke-width="5" stroke-linecap="butt"/>
<line x1="288" y1="569" x2="335" y2="569" stroke="#e4e4e4" stroke-width="1.5" stroke-linecap="butt"/>
<polyline points="335,569 359,569" fill="none" stroke="#111" stroke-width="5.8" stroke-linecap="square" stroke-linejoin="miter"/>
<polyline points="359,464 384,464" fill="none" stroke="#111" stroke-width="5.2" stroke-linecap="square" stroke-linejoin="miter"/>
<polyline points="425,464 451.7,464" fill="none" stroke="#111" stroke-width="5.2" stroke-linecap="square" stroke-linejoin="miter"/>
<polyline points="359,464 359,579" fill="none" stroke="#111" stroke-width="5.2" stroke-linecap="square" stroke-linejoin="miter"/>
<polyline points="450,464 450,579" fill="none" stroke="#111" stroke-width="5.2" stroke-linecap="square" stroke-linejoin="miter"/>
<polyline points="359,579 381,579" fill="none" stroke="#111" stroke-width="5.2" stroke-linecap="square" stroke-linejoin="miter"/>
<line x1="381" y1="579" x2="430" y2="579" stroke="#c9c9c9" stroke-width="4.5" stroke-linecap="butt"/>
<line x1="381" y1="579" x2="430" y2="579" stroke="#e4e4e4" stroke-width="1.3499999999999999" stroke-linecap="butt"/>
<polyline points="430,579 451,579" fill="none" stroke="#111" stroke-width="5.2" stroke-linecap="square" stroke-linejoin="miter"/>
<line x1="384" y1="464" x2="384.0" y2="484.5" stroke="#555" stroke-width="0.9" stroke-linecap="butt"/>
<path d="M384.00,484.50 A20.5,20.5 0 0 0 404.19,467.56" fill="none" stroke="#666" stroke-width="0.8"/>
<line x1="425" y1="464" x2="425.0" y2="484.5" stroke="#555" stroke-width="0.9" stroke-linecap="butt"/>
<path d="M425.00,484.50 A20.5,20.5 0 0 1 404.81,467.56" fill="none" stroke="#666" stroke-width="0.8"/>
<text x="384.7" y="516.7" font-size="8.38" fill="#222" stroke="#222" stroke-width="0.2" textLength="35.60" lengthAdjust="spacingAndGlyphs">OFFICE</text>
<line x1="384.7" y1="519.7" x2="420.3" y2="519.7" stroke="#777" stroke-width="1.9" stroke-linecap="butt"/>
<text x="369" y="528.5" font-size="6.98" fill="#333" stroke="#333" stroke-width="0.3" textLength="71.20" lengthAdjust="spacingAndGlyphs">10'-1 1/8&quot; WALL HT.</text>
<text x="380.5" y="536.1" font-size="6.98" fill="#333" stroke="#333" stroke-width="0.3" textLength="47.70" lengthAdjust="spacingAndGlyphs">11'-1&quot; x 14'-1&quot;</text>
<rect x="434.09999999999997" y="584.3000000000001" width="22.600000000000023" height="22.59999999999991" fill="none" stroke="#333" stroke-width="1.3"/>
<rect x="436.59999999999997" y="586.8000000000001" width="17.600000000000023" height="17.59999999999991" fill="none" stroke="#777" stroke-width="0.8"/>
<rect x="438.09999999999997" y="588.3000000000001" width="14.600000000000023" height="14.599999999999909" fill="none" stroke="#555" stroke-width="0.8"/>
<rect x="439.4" y="589.6" width="12" height="12" fill="#111"/>
<rect x="524.9000000000001" y="584.3000000000001" width="22.59999999999991" height="22.59999999999991" fill="none" stroke="#333" stroke-width="1.3"/>
<rect x="527.4000000000001" y="586.8000000000001" width="17.59999999999991" height="17.59999999999991" fill="none" stroke="#777" stroke-width="0.8"/>
<rect x="528.9000000000001" y="588.3000000000001" width="14.599999999999909" height="14.599999999999909" fill="none" stroke="#555" stroke-width="0.8"/>
<rect x="530.2" y="589.6" width="12" height="12" fill="#111"/>
<rect x="586.9000000000001" y="557.5" width="22.59999999999991" height="22.59999999999991" fill="none" stroke="#333" stroke-width="1.3"/>
<rect x="589.4000000000001" y="560.0" width="17.59999999999991" height="17.59999999999991" fill="none" stroke="#777" stroke-width="0.8"/>
<rect x="590.9000000000001" y="561.5" width="14.599999999999909" height="14.599999999999909" fill="none" stroke="#555" stroke-width="0.8"/>
<rect x="592.2" y="562.8" width="12" height="12" fill="#111"/>
<line x1="490.5" y1="505" x2="490.5" y2="597" stroke="#999" stroke-width="1" stroke-linecap="butt" stroke-dasharray="3,3"/>
<line x1="537" y1="505" x2="537" y2="583" stroke="#bbb" stroke-width="0.8" stroke-linecap="butt" stroke-dasharray="1,1"/>
<line x1="539.5" y1="505" x2="539.5" y2="583" stroke="#bbb" stroke-width="0.8" stroke-linecap="butt" stroke-dasharray="1,1"/>
<line x1="600" y1="505" x2="600" y2="557" stroke="#bbb" stroke-width="0.8" stroke-linecap="butt" stroke-dasharray="1,1"/>
<line x1="602.5" y1="505" x2="602.5" y2="557" stroke="#bbb" stroke-width="0.8" stroke-linecap="butt" stroke-dasharray="1,1"/>
<line x1="540" y1="570.5" x2="586" y2="570.5" stroke="#bbb" stroke-width="0.8" stroke-linecap="butt" stroke-dasharray="1,1"/>
<line x1="540" y1="573" x2="586" y2="573" stroke="#bbb" stroke-width="0.8" stroke-linecap="butt" stroke-dasharray="1,1"/>
<line x1="458" y1="597" x2="524" y2="597" stroke="#bbb" stroke-width="0.8" stroke-linecap="butt" stroke-dasharray="1,1"/>
<line x1="458" y1="599.5" x2="524" y2="599.5" stroke="#bbb" stroke-width="0.8" stroke-linecap="butt" stroke-dasharray="1,1"/>
<polyline points="603,505 609.7,505 609.7,579 548.6,579 548.6,583" fill="none" stroke="#888" stroke-width="0.8" stroke-linecap="butt" stroke-linejoin="miter"/>
<line x1="440" y1="606.5" x2="524" y2="606.5" stroke="#888" stroke-width="0.8" stroke-linecap="butt"/>
<rect x="467" y="607" width="47.200000000000045" height="8" fill="none" stroke="#666" stroke-width="0.9"/>
<text x="454.9" y="541.2" font-size="8.38" fill="#222" stroke="#222" stroke-width="0.2" textLength="78.70" lengthAdjust="spacingAndGlyphs">FRONT PORCH</text>
<line x1="454.9" y1="544.2" x2="533.6" y2="544.2" stroke="#777" stroke-width="1.9" stroke-linecap="butt"/>
<text x="452.6" y="552.6" font-size="6.98" fill="#333" stroke="#333" stroke-width="0.3" textLength="82.70" lengthAdjust="spacingAndGlyphs">CATHEDRAL CEILING</text>
<text x="480" y="559.6" font-size="6.98" fill="#333" stroke="#333" stroke-width="0.3" textLength="42.50" lengthAdjust="spacingAndGlyphs">19'-0&quot; x 8'-8&quot;</text>
<circle cx="459.3" cy="570" r="1.2" fill="none" stroke="#777" stroke-width="0.9"/>
<rect x="460.6" y="567.2" width="17.50" height="5.6" fill="#aaa" stroke="#888" stroke-width="0.6"/>
<path d="M479.5,566.7 L483,570 L479.5,573.3" fill="none" stroke="#333" stroke-width="1.5"/>
<circle cx="521.2" cy="570" r="1.2" fill="none" stroke="#777" stroke-width="0.9"/>
<rect x="502.20" y="567.2" width="17.70" height="5.6" fill="#aaa" stroke="#888" stroke-width="0.6"/>
<path d="M500.8,566.7 L497.3,570 L500.8,573.3" fill="none" stroke="#333" stroke-width="1.5"/>
<text x="390.5" y="648.3" font-size="20.8" fill="#1a1a1a" stroke="#1a1a1a" stroke-width="0.35" textLength="191" lengthAdjust="spacingAndGlyphs">1ST FLOOR PLAN</text>
<line x1="388" y1="653" x2="583" y2="653" stroke="#333" stroke-width="1.4" stroke-linecap="butt"/>
<line x1="388" y1="655.8" x2="583" y2="655.8" stroke="#777" stroke-width="0.9" stroke-linecap="butt"/>
</g>
</svg>
</body></html>
